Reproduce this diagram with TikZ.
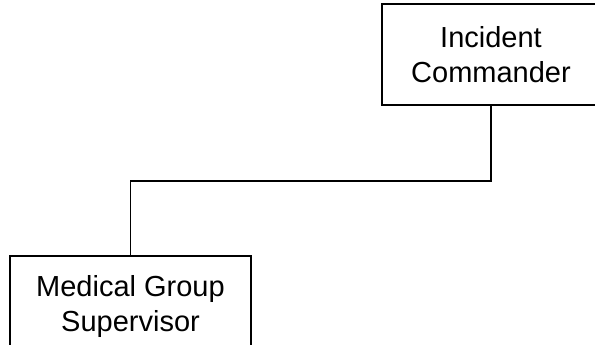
\documentclass[tikz,border=0pt]{standalone}
\usepackage{fontspec}
\setmainfont{Liberation Sans}
\begin{document}
\begin{tikzpicture}[x=1pt,y=1pt,
  orgbox/.style={draw=black,line width=2pt,minimum width=218pt,minimum height=101pt,inner sep=0pt,
    align=center,font=\fontsize{29}{35}\selectfont},
  link/.style={line width=1.4pt}]
\useasboundingbox (0,0) rectangle (595,-345);
\node[orgbox] (ic) at (491,-55) {Incident\\Commander};
\node[orgbox,minimum width=241pt] (mg) at (130.5,-306.5) {Medical Group\\Supervisor};
\coordinate (j) at (491,-181);
\draw[link] (ic.south) -- (j) -| (mg.north);
\end{tikzpicture}
\end{document}
